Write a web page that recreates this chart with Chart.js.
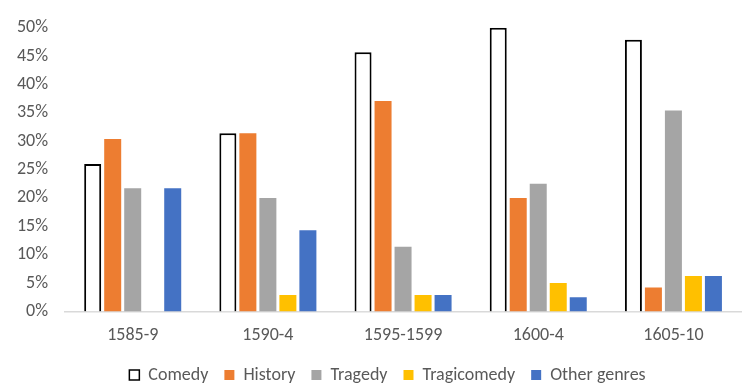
<!DOCTYPE html>
<html>
<head>
<meta charset="utf-8">
<script src="https://cdn.jsdelivr.net/npm/chart.js@4/dist/chart.umd.min.js"></script>
<style>
  html, body { margin: 0; padding: 0; background: #fff; }
  #wrap { width: 748px; height: 388px; }
</style>
</head>
<body>
<div id="wrap"><canvas id="chart"></canvas></div>
<script>
// periods on the x axis
const periods = ['1585-9', '1590-4', '1595-1599', '1600-4', '1605-10'];

// share of plays per genre, in percent
const comedy      = [26.0, 31.4, 45.7, 50.0, 47.9];
const history     = [30.4, 31.4, 37.1, 20.0, 4.2];
const tragedy     = [21.7, 20.0, 11.4, 22.5, 35.4];
const tragicomedy = [0, 2.9, 2.9, 5.0, 6.25];
const other       = [21.7, 14.3, 2.9, 2.5, 6.25];

const yTicks = [0, 5, 10, 15, 20, 25, 30, 35, 40, 45, 50];

const textColor = '#595959';
const fontFamily = "Carlito, Calibri, Lato, sans-serif";

function bar(label, data, fill, border, bw) {
    return {
        label: label,
        data: data,
        backgroundColor: fill,
        borderColor: border,
        borderWidth: bw,
        borderSkipped: 'bottom',
        categoryPercentage: 0.74,
        barPercentage: 0.85
    };
}

// nudge the legend, Excel centres it under the plot area
const legendShift = {
    id: 'legendShift',
    afterLayout(chart) {
        const lg = chart.legend;
        if (!lg) return;
        lg.left += 17; lg.right += 17;
        lg.top -= 9; lg.bottom -= 9;
    }
};

new Chart(document.getElementById('chart'), {
    type: 'bar',
    data: {
        labels: periods,
        datasets: [
            bar('Comedy', comedy, '#ffffff', '#000000', 2),
            bar('History', history, '#ed7d31', '#ed7d31', 0),
            bar('Tragedy', tragedy, '#a5a5a5', '#a5a5a5', 0),
            bar('Tragicomedy', tragicomedy, '#ffc000', '#ffc000', 0),
            bar('Other genres', other, '#4472c4', '#4472c4', 0)
        ]
    },
    plugins: [legendShift],
    options: {
        responsive: true,
        maintainAspectRatio: false,
        animation: false,
        layout: { padding: { left: 0, right: 7, top: 17, bottom: -15 } },
        plugins: {
            tooltip: { enabled: false },
            legend: {
                position: 'bottom',
                labels: {
                    color: textColor,
                    font: { family: fontFamily, size: 18 },
                    boxWidth: 10,
                    boxHeight: 10,
                    padding: 16,
                    generateLabels: function (chart) {
                        return chart.data.datasets.map(function (ds, i) {
                            return {
                                text: ds.label,
                                fillStyle: ds.backgroundColor,
                                strokeStyle: i === 0 ? '#000000' : ds.backgroundColor,
                                lineWidth: i === 0 ? 1.5 : 0,
                                fontColor: textColor,
                                datasetIndex: i
                            };
                        });
                    }
                }
            }
        },
        scales: {
            x: {
                z: 1,
                grid: { display: false, drawTicks: false },
                border: { color: '#d9d9d9', width: 1.5 },
                ticks: {
                    color: textColor,
                    font: { family: fontFamily, size: 18 },
                    padding: 13
                }
            },
            y: {
                min: 0,
                max: 50,
                grid: { display: false, drawTicks: false },
                border: { display: false },
                afterBuildTicks: function (axis) {
                    axis.ticks = yTicks.map(function (v) { return { value: v }; });
                },
                ticks: {
                    color: textColor,
                    font: { family: fontFamily, size: 18 },
                    padding: 17,
                    callback: function (v) { return v + '%'; }
                }
            }
        }
    }
});
</script>
</body>
</html>
